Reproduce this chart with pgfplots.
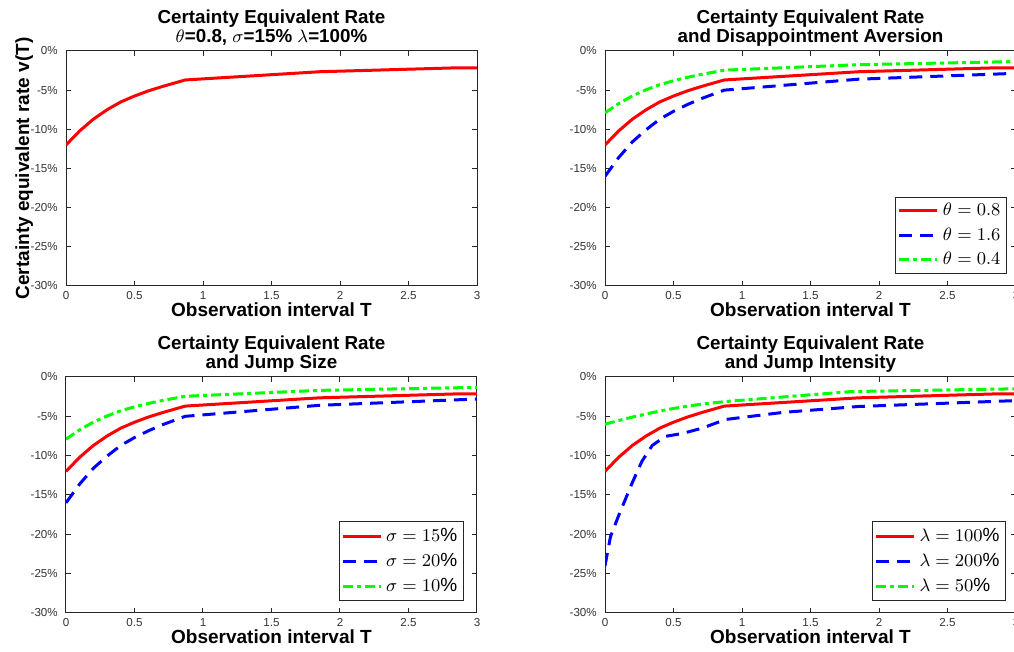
\documentclass[border=0pt]{standalone}
\usepackage{fontspec}
\setmainfont{Liberation Sans}
\usepackage{pgfplots}
\pgfplotsset{compat=1.18}
\definecolor{mred}{RGB}{255,0,0}
\definecolor{mblue}{RGB}{0,0,255}
\definecolor{mgreen}{RGB}{0,255,0}
\pgfplotsset{
  ceq/.style={
    scale only axis, width=205.5pt, height=117.5pt,
    xmin=0, xmax=3, ymin=-30, ymax=0,
    xtick={0,0.5,1,1.5,2,2.5,3}, xticklabels={0,0.5,1,1.5,2,2.5,3},
    ytick={-30,-25,-20,-15,-10,-5,0},
    yticklabels={-30\%,-25\%,-20\%,-15\%,-10\%,-5\%,0\%},
    tick align=inside, major tick length=2.5pt,
    axis line style={black!85, line width=0.5pt},
    every tick/.style={black!85, line width=0.5pt},
    tick label style={font=\fontsize{5.8}{6}\selectfont, text=black!80},
    xticklabel style={anchor=base, yshift=-6.7pt},
    yticklabel style={anchor=east, xshift=-0.6pt},
    title style={font=\fontsize{9.4}{9.4}\selectfont\bfseries, align=center,
      at={(axis description cs:0.5,1)}, anchor=south, inner sep=0pt, yshift=-4.7pt},
    xlabel={Observation interval T},
    xlabel style={font=\fontsize{9.5}{11}\selectfont\bfseries,
      at={(axis description cs:0.5,-0.128)}, anchor=base},
    ylabel style={font=\fontsize{9.5}{11}\selectfont\bfseries,
      at={(axis description cs:-0.09,0.5)}, anchor=base},
    legend style={draw=black!85, line width=0.5pt, font=\fontsize{9.5}{11}\selectfont,
      inner sep=1pt, row sep=0.5pt, anchor=south east},
    legend cell align=left,
    legend image code/.code={\draw[##1] (0pt,0pt) -- (19pt,0pt);},
  },
  sred/.style={mred, line width=1.5pt, mark=none},
  sblue/.style={mblue, line width=1.5pt, mark=none, dash pattern=on 6.5pt off 4pt},
  sgreen/.style={mgreen, line width=1.5pt, mark=none, dash pattern=on 5pt off 2pt on 2pt off 2pt},
}
\begin{document}
\begin{tikzpicture}
\path[use as bounding box] (0,0) rectangle (507pt,326pt);
% ---------------- top left
\begin{axis}[ceq, at={(33pt,183pt)}, anchor=south west,
  title={Certainty Equivalent Rate\\$\theta$=0.8, $\sigma$=15\% $\lambda$=100\%\strut},
  ylabel={Certainty equivalent rate v(T)}]
\addplot[sred] coordinates {(0,-12.0)(0.1,-10.2)(0.2,-8.7)(0.3,-7.5)(0.4,-6.5)(0.5,-5.75)(0.6,-5.1)(0.7,-4.55)(0.8,-4.05)(0.87,-3.7)(1.85,-2.65)(2.85,-2.15)(3,-2.15)};
\end{axis}
% ---------------- top right
\begin{axis}[ceq, at={(302.5pt,183pt)}, anchor=south west,
  title={Certainty Equivalent Rate\\and Disappointment Aversion\strut},
  legend style={at={(0.978,0.051)}}]
\addplot[sred] coordinates {(0,-12.0)(0.1,-10.2)(0.2,-8.7)(0.3,-7.5)(0.4,-6.5)(0.5,-5.75)(0.6,-5.1)(0.7,-4.55)(0.8,-4.05)(0.87,-3.7)(1.85,-2.65)(2.85,-2.15)(3,-2.15)};
\addplot[sblue] coordinates {(0,-16.0)(0.1,-13.6)(0.2,-11.6)(0.3,-10.05)(0.4,-8.7)(0.5,-7.7)(0.6,-6.85)(0.7,-6.1)(0.8,-5.45)(0.87,-5.0)(1.85,-3.6)(3,-2.85)};
\addplot[sgreen] coordinates {(0,-7.9)(0.1,-6.72)(0.2,-5.73)(0.3,-4.95)(0.4,-4.29)(0.5,-3.8)(0.6,-3.37)(0.7,-3.0)(0.8,-2.68)(0.87,-2.45)(1.85,-1.75)(3,-1.35)};
\legend{$\theta=0.8$,$\theta=1.6$,$\theta=0.4$}
\end{axis}
% ---------------- bottom left
\begin{axis}[ceq, height=118pt, at={(33pt,19.5pt)}, anchor=south west,
  title={Certainty Equivalent Rate\\and Jump Size\strut},
  legend style={at={(0.968,0.051)}}]
\addplot[sred] coordinates {(0,-12.0)(0.1,-10.2)(0.2,-8.7)(0.3,-7.5)(0.4,-6.5)(0.5,-5.75)(0.6,-5.1)(0.7,-4.55)(0.8,-4.05)(0.87,-3.7)(1.85,-2.65)(2.85,-2.15)(3,-2.15)};
\addplot[sblue] coordinates {(0,-16.0)(0.1,-13.6)(0.2,-11.6)(0.3,-10.05)(0.4,-8.7)(0.5,-7.7)(0.6,-6.85)(0.7,-6.1)(0.8,-5.45)(0.87,-5.0)(1.85,-3.6)(3,-2.8)};
\addplot[sgreen] coordinates {(0,-7.9)(0.1,-6.72)(0.2,-5.73)(0.3,-4.95)(0.4,-4.29)(0.5,-3.8)(0.6,-3.37)(0.7,-3.0)(0.8,-2.68)(0.87,-2.45)(1.85,-1.7)(3,-1.32)};
\legend{$\sigma=15\%$,$\sigma=20\%$,$\sigma=10\%$}
\end{axis}
% ---------------- bottom right
\begin{axis}[ceq, height=118pt, at={(302.5pt,19.5pt)}, anchor=south west,
  title={Certainty Equivalent Rate\\and Jump Intensity\strut},
  legend style={at={(0.976,0.051)}}]
\addplot[sred] coordinates {(0,-12.0)(0.1,-10.2)(0.2,-8.7)(0.3,-7.5)(0.4,-6.5)(0.5,-5.75)(0.6,-5.1)(0.7,-4.55)(0.8,-4.05)(0.87,-3.7)(1.85,-2.65)(2.85,-2.15)(3,-2.15)};
\addplot[sblue] coordinates {(0,-24.0)(0.04,-20.3)(0.1,-17.6)(0.2,-13.4)(0.27,-10.7)(0.345,-8.7)(0.44,-7.55)(0.56,-7.2)(0.71,-6.5)(0.88,-5.4)(1.3,-4.5)(1.85,-3.75)(3,-3.0)};
\addplot[sgreen] coordinates {(0,-6.0)(0.1,-5.53)(0.2,-5.1)(0.3,-4.7)(0.4,-4.33)(0.5,-4.0)(0.6,-3.72)(0.7,-3.47)(0.8,-3.27)(0.88,-3.12)(1.8,-1.85)(3,-1.5)};
\legend{$\lambda=100\%$,$\lambda=200\%$,$\lambda=50\%$}
\end{axis}
\end{tikzpicture}
\end{document}
